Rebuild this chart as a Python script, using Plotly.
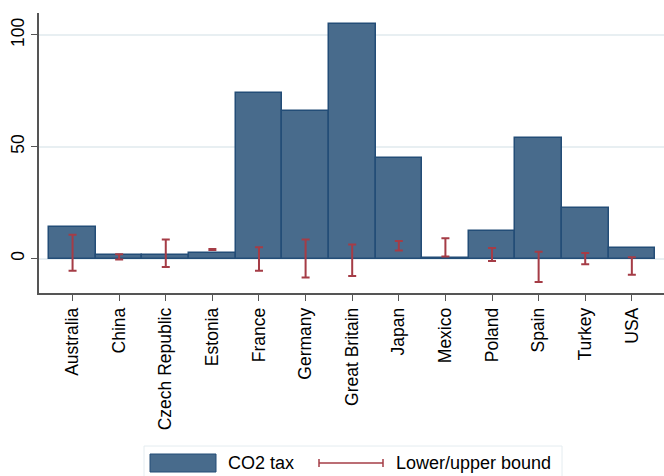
import plotly.graph_objects as go

countries = ["Australia", "China", "Czech Republic", "Estonia", "France", "Germany",
             "Great Britain", "Japan", "Mexico", "Poland", "Spain", "Turkey", "USA"]
co2_tax = [14.1, 1.5, 1.8, 2.4, 74.1, 66.1, 104.9, 45.0, 0.3, 12.5, 54.0, 22.5, 4.7]
lower_bound = [-5.5, -0.4, -3.8, 3.8, -5.5, -8.5, -7.8, 3.6, 0.9, -1.1, -10.5, -2.6, -7.2]
upper_bound = [10.6, 1.9, 8.5, 4.3, 5.1, 8.5, 6.3, 7.9, 9.1, 4.7, 3.0, 2.5, 0.6]
y_ticks = [0, 50, 100]

mid = [(lo + up) / 2 for lo, up in zip(lower_bound, upper_bound)]
half = [(up - lo) / 2 for lo, up in zip(lower_bound, upper_bound)]

BAR_FILL = "#486b8c"
BAR_LINE = "#234d77"
ERR = "#a53c46"
FONT = "Liberation Sans, Arial, sans-serif"

L, T, W, H = 39, 13, 625, 280
BOT = T + H


def px(x):
    return (x - L) / W


def py(y):
    return (BOT - y) / H


fig = go.Figure()
fig.add_trace(go.Bar(
    x=countries, y=co2_tax, name="CO2 tax",
    marker=dict(color=BAR_FILL, line=dict(color=BAR_LINE, width=1.5)),
    showlegend=False,
))
fig.add_trace(go.Scatter(
    x=countries, y=mid, mode="markers", name="Lower/upper bound",
    marker=dict(size=1, color="rgba(0,0,0,0)"),
    error_y=dict(type="data", array=half, symmetric=True, color=ERR,
                 thickness=2, width=4),
    showlegend=False,
))

fig.update_layout(
    width=664, height=476,
    margin=dict(l=L, r=664 - L - W, t=T, b=476 - BOT),
    paper_bgcolor="white", plot_bgcolor="white",
    bargap=0,
    font=dict(family=FONT, size=17.5, color="black"),
    xaxis=dict(
        range=[-0.72, 12.69], tickangle=-90, ticks="outside", ticklen=6,
        tickcolor="#555555", showline=True, linecolor="#555555", linewidth=1.5,
        showgrid=False, tickfont=dict(size=17.5), automargin=False,
    ),
    yaxis=dict(
        range=[-15.4, 109.8], tickvals=y_ticks, tickangle=-90, ticks="outside",
        ticklen=6, tickcolor="#555555", showline=True, linecolor="#555555",
        linewidth=1.5, showgrid=True, gridcolor="#e8eff2", gridwidth=1.5,
        zeroline=False, tickfont=dict(size=17.5), automargin=False,
    ),
    shapes=[
        # legend frame
        dict(type="rect", xref="paper", yref="paper",
             x0=px(144), x1=px(562), y0=py(480), y1=py(446),
             line=dict(color="#e4ecf0", width=1), fillcolor="white"),
        # bar swatch
        dict(type="rect", xref="paper", yref="paper",
             x0=px(150), x1=px(216), y0=py(472), y1=py(454),
             line=dict(color=BAR_LINE, width=1), fillcolor=BAR_FILL),
        # error bar legend symbol
        dict(type="line", xref="paper", yref="paper",
             x0=px(319), x1=px(383), y0=py(463), y1=py(463),
             line=dict(color=ERR, width=1.5)),
        dict(type="line", xref="paper", yref="paper",
             x0=px(319), x1=px(319), y0=py(467), y1=py(459),
             line=dict(color=ERR, width=1.5)),
        dict(type="line", xref="paper", yref="paper",
             x0=px(383), x1=px(383), y0=py(467), y1=py(459),
             line=dict(color=ERR, width=1.5)),
    ],
    annotations=[
        dict(text="CO2 tax", xref="paper", yref="paper",
             x=px(226), y=py(463), xanchor="left",
             yanchor="middle", showarrow=False, font=dict(size=18)),
        dict(text="Lower/upper bound", xref="paper", yref="paper",
             x=px(394), y=py(463), xanchor="left",
             yanchor="middle", showarrow=False, font=dict(size=18)),
    ],
)

fig.write_html("out.html", config={"displayModeBar": False},
               post_script="document.body.style.margin='0px';")
